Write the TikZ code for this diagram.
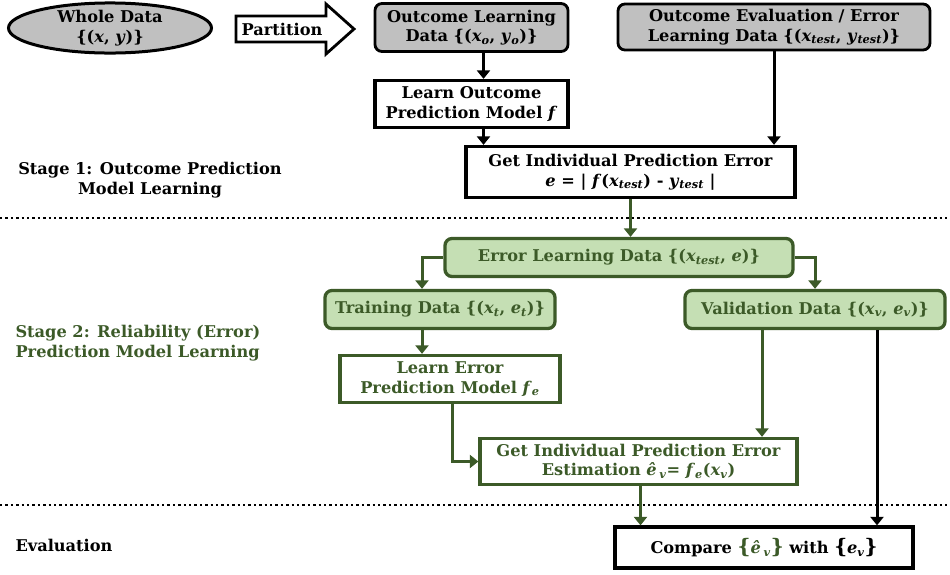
\documentclass[tikz,border=0pt]{standalone}
\usepackage{fontspec}
\setmainfont{DejaVu Serif}
\usetikzlibrary{arrows.meta,shapes.geometric}
\definecolor{dg}{HTML}{3C5A28}
\definecolor{lg}{HTML}{C5DFB4}
\definecolor{gr}{HTML}{C0C0C0}
\newcommand\mysub[2]{\textit{#1}\textsubscript{\textit{#2}}}
\begin{document}
\begin{tikzpicture}[x=1pt,y=-1pt,
  font=\fontsize{16.2}{19.5}\selectfont\bfseries,
  box/.style={draw, line width=3.3pt, align=center, inner sep=0pt},
  graybox/.style={box, rounded corners=7pt, fill=gr, line width=2.8pt},
  greenbox/.style={box, rounded corners=7pt, fill=lg, draw=dg, text=dg},
  wgreenbox/.style={box, fill=white, draw=dg, text=dg},
  arr/.style={line width=3pt, -{Triangle[width=13pt,length=8.5pt]}},
  garr/.style={arr, draw=dg},
  dotline/.style={line width=2.4pt, dash pattern=on 2.4pt off 3pt},
  lbl/.style={align=center}]
\useasboundingbox (0,0) rectangle (950,574);

\node[ellipse, draw, fill=gr, line width=3pt, minimum width=203, minimum height=48, align=center, inner sep=0pt] (whole) at (110,28) {Whole Data\\\{(\textit{x}, \textit{y})\}};

\draw[line width=2.8pt, fill=white] (236,16) -- (326,16) -- (326,4) -- (354,29) -- (326,54) -- (326,42) -- (236,42) -- cycle;
\node (part) at (282,29) {Partition};

\node[graybox, minimum width=193, minimum height=48] (olearn) at (471.5,27.5) {Outcome Learning\\Data \{(\mysub{x}{o}, \mysub{y}{o})\}};
\node[graybox, minimum width=312, minimum height=46] (oeval) at (774,27) {Outcome Evaluation / Error\\Learning Data \{(\mysub{x}{test}, \mysub{y}{test})\}};

\node[box, minimum width=193, minimum height=47, fill=white] (lom) at (471.5,104) {Learn Outcome\\Prediction Model \textit{f}};
\node[box, minimum width=329, minimum height=51, fill=white] (geterr) at (630.5,172) {Get Individual Prediction Error\\\textit{e} = | \textit{f}(\mysub{x}{test}) - \mysub{y}{test} |};

\draw[arr] ([xshift=12]olearn.south) -- ([xshift=12]lom.north);
\draw[arr] ([xshift=12]lom.south) -- ([xshift=12]lom.south |- geterr.north);
\draw[arr] (oeval.south) -- (oeval.south |- geterr.north);

\node[lbl] (s1) at (150,180) {Stage 1: Outcome Prediction\\Model Learning};
\draw[dotline] (0,218) -- (950,218);

\node[greenbox, minimum width=348, minimum height=38] (errl) at (619,257.5) {Error Learning Data \{(\mysub{x}{test}, \textit{e})\}};
\node[greenbox, minimum width=230, minimum height=38] (train) at (440,309.5) {Training Data \{(\mysub{x}{t}, \mysub{e}{t})\}};
\node[greenbox, minimum width=260, minimum height=38] (valid) at (815,309.5) {Validation Data \{(\mysub{x}{v}, \mysub{e}{v})\}};
\node[wgreenbox, minimum width=220, minimum height=47] (learnerr) at (450,379) {Learn Error\\Prediction Model \mysub{f}{e}};
\node[wgreenbox, minimum width=317, minimum height=46] (est) at (638.5,461.5) {Get Individual Prediction Error\\Estimation \textit{ê}\,\textsubscript{\textit{v}}= \mysub{f}{e}(\mysub{x}{v})};

\draw[garr] (geterr.south) -- (geterr.south |- errl.north);
\draw[garr] (errl.west) -| ([xshift=-18]train.north);
\draw[garr] (errl.east) -| (valid.north);
\draw[garr] ([xshift=-18]train.south) -- ([xshift=-18]train.south |- learnerr.north);
\draw[garr] ([xshift=2]learnerr.south) |- (est.west);
\draw[garr] ([xshift=-53]valid.south) -- ([xshift=-53]valid.south |- est.north);

\node[lbl, align=left, text=dg, anchor=west] (s2) at (12,343) {Stage 2: Reliability (Error)\\Prediction Model Learning};

\draw[dotline] (0,505) -- (950,505);

\node[box, minimum width=298, minimum height=41, fill=white] (comp) at (764,547.5) {Compare {\color{dg}{\fontsize{20}{20}\selectfont\{}\textit{ê}\,\textsubscript{\textit{v}}{\fontsize{20}{20}\selectfont\}}} with {\fontsize{20}{20}\selectfont\{}\mysub{e}{v}{\fontsize{20}{20}\selectfont\}}};

\draw[garr] ([xshift=2]est.south) -- ([xshift=2]est.south |- comp.north);
\draw[arr] ([xshift=62]valid.south) -- ([xshift=62]valid.south |- comp.north);

\node[anchor=west] (ev) at (12,545) {Evaluation};
\end{tikzpicture}
\end{document}
